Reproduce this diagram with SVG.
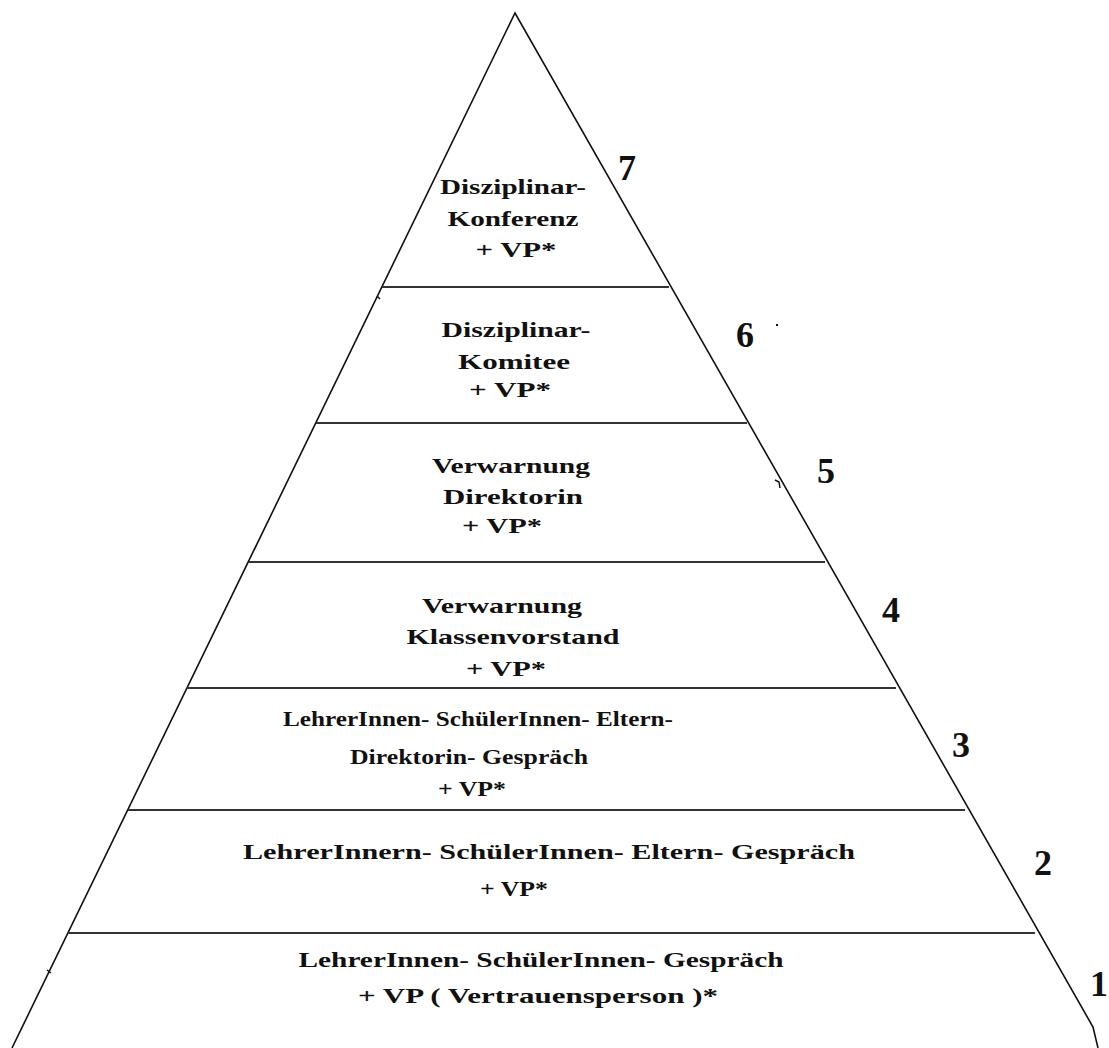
<svg xmlns="http://www.w3.org/2000/svg" width="1109" height="1048" viewBox="0 0 1109 1048">
<style>
.side{fill:none;stroke:#111;stroke-width:1.6}
.div{stroke:#333;stroke-width:2}
.t{font-family:"Liberation Serif","Times New Roman",serif;font-weight:bold;font-size:21px;fill:#111;text-anchor:middle}
.n{font-family:"Liberation Serif","Times New Roman",serif;font-weight:bold;font-size:36px;fill:#111;text-anchor:middle}
.mark{fill:none;stroke:#111;stroke-width:1.5}
</style>
<rect width="1109" height="1048" fill="#fff"/>
<g id="connectors">
<path class="side" d="M12,1048 L515,13 L1093,1027 L1098,1048"/>
<line class="div" x1="382" y1="287" x2="669" y2="287"/>
<line class="div" x1="316" y1="423" x2="747" y2="423"/>
<line class="div" x1="249" y1="562" x2="825" y2="562"/>
<line class="div" x1="187" y1="688" x2="896" y2="688"/>
<line class="div" x1="128" y1="810" x2="965" y2="810"/>
<line class="div" x1="68" y1="933" x2="1035" y2="933"/>
<path class="mark" d="M775,480 L779,482 L780,488"/>
<path class="mark" d="M47,970 L51,973"/>
<path class="mark" d="M377,296 L380,299"/>
<rect x="776" y="324" width="2" height="2" fill="#111"/>
</g>
<g id="tier7">
<text class="t" x="513" y="194" textLength="146" lengthAdjust="spacingAndGlyphs">Disziplinar-</text>
<text class="t" x="513" y="226" textLength="131" lengthAdjust="spacingAndGlyphs">Konferenz</text>
<text class="t" x="516" y="257" textLength="81" lengthAdjust="spacingAndGlyphs">+ VP*</text>
<text class="n" x="627" y="180">7</text>
</g>
<g id="tier6">
<text class="t" x="516" y="337" textLength="149" lengthAdjust="spacingAndGlyphs">Disziplinar-</text>
<text class="t" x="514" y="369" textLength="112" lengthAdjust="spacingAndGlyphs">Komitee</text>
<text class="t" x="510" y="397" textLength="82" lengthAdjust="spacingAndGlyphs">+ VP*</text>
<text class="n" x="745" y="347">6</text>
</g>
<g id="tier5">
<text class="t" x="511" y="473" textLength="158" lengthAdjust="spacingAndGlyphs">Verwarnung</text>
<text class="t" x="513" y="504" textLength="140" lengthAdjust="spacingAndGlyphs">Direktorin</text>
<text class="t" x="502" y="533" textLength="80" lengthAdjust="spacingAndGlyphs">+ VP*</text>
<text class="n" x="826" y="483">5</text>
</g>
<g id="tier4">
<text class="t" x="502" y="613" textLength="160" lengthAdjust="spacingAndGlyphs">Verwarnung</text>
<text class="t" x="513" y="644" textLength="213" lengthAdjust="spacingAndGlyphs">Klassenvorstand</text>
<text class="t" x="506" y="676" textLength="80" lengthAdjust="spacingAndGlyphs">+ VP*</text>
<text class="n" x="891" y="622">4</text>
</g>
<g id="tier3">
<text class="t" x="478" y="726" textLength="390" lengthAdjust="spacingAndGlyphs">LehrerInnen- SchülerInnen- Eltern-</text>
<text class="t" x="469" y="764" textLength="238" lengthAdjust="spacingAndGlyphs">Direktorin- Gespräch</text>
<text class="t" x="472" y="796" textLength="68" lengthAdjust="spacingAndGlyphs">+ VP*</text>
<text class="n" x="961" y="757">3</text>
</g>
<g id="tier2">
<text class="t" x="549" y="859" textLength="612" lengthAdjust="spacingAndGlyphs">LehrerInnern- SchülerInnen- Eltern- Gespräch</text>
<text class="t" x="514" y="896" textLength="68" lengthAdjust="spacingAndGlyphs">+ VP*</text>
<text class="n" x="1043" y="875">2</text>
</g>
<g id="tier1">
<text class="t" x="541" y="967" textLength="485" lengthAdjust="spacingAndGlyphs">LehrerInnen- SchülerInnen- Gespräch</text>
<text class="t" x="538" y="1003" textLength="360" lengthAdjust="spacingAndGlyphs">+ VP ( Vertrauensperson )*</text>
<text class="n" x="1099" y="996">1</text>
</g>
</svg>
